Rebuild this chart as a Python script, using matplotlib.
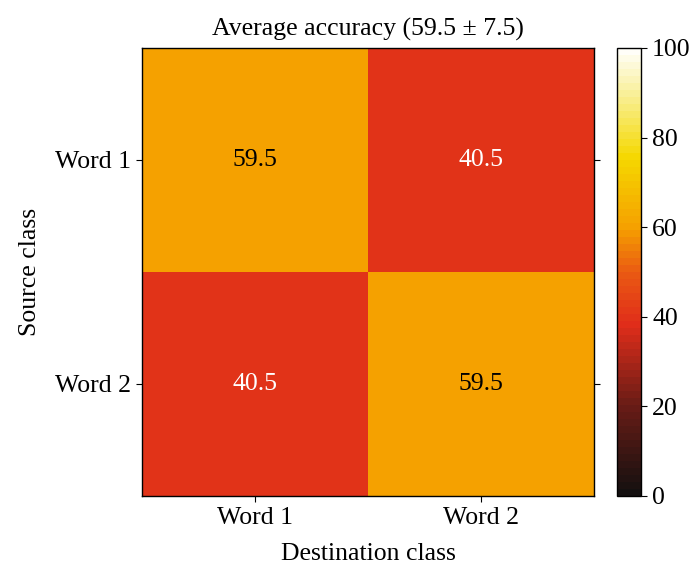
import numpy as np
import matplotlib
matplotlib.use("Agg")
import matplotlib.pyplot as plt
from matplotlib.colors import LinearSegmentedColormap

plt.rcParams['font.family'] = ['Liberation Serif', 'DejaVu Serif']

classes = ["Word 1", "Word 2"]
values = np.array([[59.5, 40.5],
                   [40.5, 59.5]])
title = "Average accuracy (59.5 ± 7.5)"

cmap = LinearSegmentedColormap.from_list(
    "muted_hot",
    [(0.0, "#141010"), (0.2, "#6a1c16"), (0.38, "#e02d1a"), (0.5, "#ea5a12"),
     (0.6, "#f5a000"), (0.76, "#f5d800"), (0.88, "#f8ec80"), (1.0, "#fffef8")],
    N=64)

fig = plt.figure(figsize=(6.95, 5.72), dpi=100)
ax = fig.add_axes([0.2043, 0.1329, 0.6504, 0.7832])
cax = fig.add_axes([0.8878, 0.1329, 0.0345, 0.7832])

im = ax.imshow(values, cmap=cmap, vmin=0, vmax=100, aspect='auto', interpolation='nearest')

fs = 18.5
for i in range(values.shape[0]):
    for j in range(values.shape[1]):
        v = values[i, j]
        ax.text(j, i, f"{v:.1f}", ha='center', va='center', fontsize=fs,
                color='black' if v > 50 else 'white')

ax.set_xticks(range(len(classes)))
ax.set_xticklabels(classes, fontsize=fs)
ax.set_yticks(range(len(classes)))
ax.set_yticklabels(classes, fontsize=fs)
ax.tick_params(axis='both', direction='out', length=4, width=0.8, right=True, pad=4)
ax.set_xlabel("Destination class", fontsize=fs, labelpad=10)
ax.set_ylabel("Source class", fontsize=fs, labelpad=10)
ax.set_title(title, fontsize=fs, pad=9)
for s in ax.spines.values():
    s.set_linewidth(1.0)

cb = fig.colorbar(im, cax=cax, ticks=[0, 20, 40, 60, 80, 100])
cb.ax.tick_params(labelsize=fs, direction='out', length=4, width=0.8, pad=4)
cb.outline.set_linewidth(1.0)

fig.savefig("out.png", dpi=100)
